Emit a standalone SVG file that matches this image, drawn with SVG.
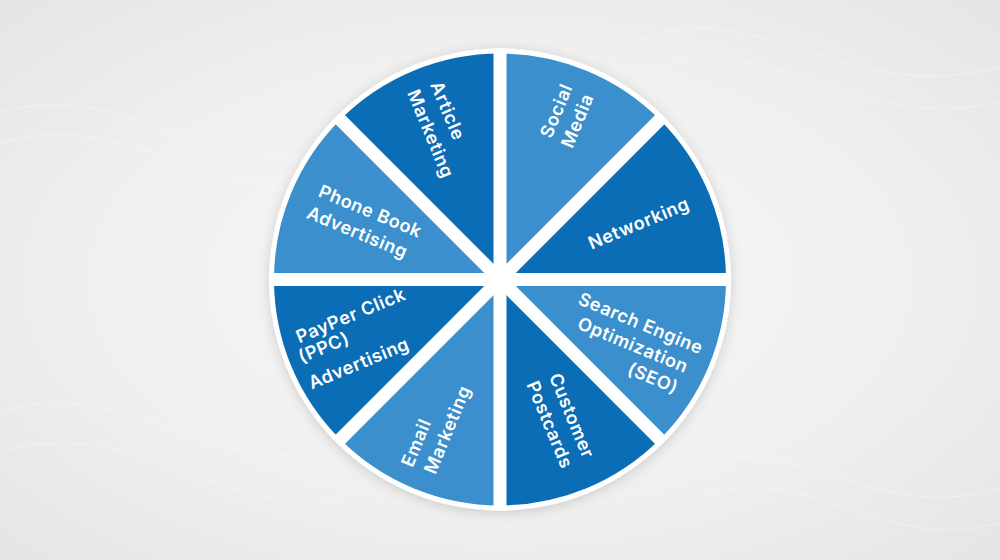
<svg xmlns="http://www.w3.org/2000/svg" width="1000" height="560" viewBox="0 0 1000 560">
  <defs>
    <radialGradient id="bg" cx="0.5" cy="0.5" r="0.7">
      <stop offset="0" stop-color="#f7f7f7"/>
      <stop offset="0.6" stop-color="#efefef"/>
      <stop offset="1" stop-color="#e5e5e5"/>
    </radialGradient>
    <filter id="shadow" x="-20%" y="-20%" width="140%" height="140%">
      <feDropShadow dx="0" dy="2" stdDeviation="6" flood-color="#000" flood-opacity="0.16"/>
    </filter>
  </defs>
  <style>
    .dark { fill: #0b6db6; }
    .light { fill: #3b8fcc; }
    .lbl { font-family: Inter, "Open Sans", "Liberation Sans", sans-serif; font-weight: 600; font-size: 18px; letter-spacing: 0.6px; fill: #ffffff; text-anchor: middle; }
    .wave { fill: none; stroke: #ffffff; stroke-width: 1; opacity: 0.35; }
    .gap { stroke: #ffffff; stroke-width: 13; }
  </style>

  <rect x="0" y="0" width="1000" height="560" fill="url(#bg)"/>
  <g id="background-waves">
    <path class="wave" d="M-20,120 C120,60 220,200 380,150"/>
    <path class="wave" d="M-20,150 C130,90 230,230 390,180"/>
    <path class="wave" d="M-20,420 C110,360 200,480 330,450"/>
    <path class="wave" d="M-20,460 C120,400 220,520 340,500"/>
    <path class="wave" d="M640,40 C760,-10 860,120 1020,60"/>
    <path class="wave" d="M650,70 C770,20 870,150 1020,95"/>
    <path class="wave" d="M680,470 C800,420 880,540 1020,480"/>
    <path class="wave" d="M690,500 C810,450 890,570 1020,515"/>
  </g>

  <circle id="pie-base" cx="500" cy="279.5" r="231" fill="#ffffff" filter="url(#shadow)"/>

  <g id="social-media">
    <path class="light" d="M500,279.5 L659.8,119.7 A226,226 0 0,0 500,53.5 Z"/>
    <text class="lbl" transform="translate(557,111) rotate(-67.5)" y="5.5">Social</text>
    <text class="lbl" transform="translate(578,121) rotate(-67.5)" y="5.5">Media</text>
  </g>
  <g id="article-marketing">
    <path class="dark" d="M500,279.5 L500,53.5 A226,226 0 0,0 340.2,119.7 Z"/>
    <text class="lbl" transform="translate(447,111) rotate(67.5)" y="5.5">Article</text>
    <text class="lbl" transform="translate(430,134) rotate(67.5)" y="5.5">Marketing</text>
  </g>
  <g id="phone-book-advertising">
    <path class="light" d="M500,279.5 L340.2,119.7 A226,226 0 0,0 274,279.5 Z"/>
    <text class="lbl" transform="translate(370,212) rotate(22.5)" y="5.5">Phone Book</text>
    <text class="lbl" transform="translate(357,233) rotate(22.5)" y="5.5">Advertising</text>
  </g>
  <g id="ppc-advertising">
    <path class="dark" d="M500,279.5 L274,279.5 A226,226 0 0,0 340.2,439.3 Z"/>
    <text class="lbl" transform="translate(351,316) rotate(-22.5)" y="5.5">PayPer Click</text>
    <text class="lbl" transform="translate(324,348) rotate(-22.5)" y="5.5">(PPC)</text>
    <text class="lbl" transform="translate(359,364) rotate(-22.5)" y="5.5">Advertising</text>
  </g>
  <g id="email-marketing">
    <path class="light" d="M500,279.5 L340.2,439.3 A226,226 0 0,0 500,505.5 Z"/>
    <text class="lbl" transform="translate(417,443) rotate(-67.5)" y="5.5">Email</text>
    <text class="lbl" transform="translate(448,430) rotate(-67.5)" y="5.5">Marketing</text>
  </g>
  <g id="customer-postcards">
    <path class="dark" d="M500,279.5 L500,505.5 A226,226 0 0,0 659.8,439.3 Z"/>
    <text class="lbl" transform="translate(571,416) rotate(67.5)" y="5.5">Customer</text>
    <text class="lbl" transform="translate(549,425) rotate(67.5)" y="5.5">Postcards</text>
  </g>
  <g id="seo">
    <path class="light" d="M500,279.5 L659.8,439.3 A226,226 0 0,0 726,279.5 Z"/>
    <text class="lbl" transform="translate(640.5,324) rotate(22.5)" y="5.5">Search Engine</text>
    <text class="lbl" transform="translate(632.7,345.6) rotate(22.5)" y="5.5">Optimization</text>
    <text class="lbl" transform="translate(652.7,378.8) rotate(22.5)" y="5.5">(SEO)</text>
  </g>
  <g id="networking">
    <path class="dark" d="M500,279.5 L726,279.5 A226,226 0 0,0 659.8,119.7 Z"/>
    <text class="lbl" transform="translate(639,224) rotate(-22.5)" y="5.5">Networking</text>
  </g>

  <g id="separators">
    <line class="gap" x1="269" y1="279.5" x2="731" y2="279.5"/>
    <line class="gap" x1="500" y1="48.5" x2="500" y2="510.5"/>
    <line class="gap" x1="336.7" y1="116.2" x2="663.3" y2="442.8"/>
    <line class="gap" x1="663.3" y1="116.2" x2="336.7" y2="442.8"/>
  </g>
</svg>
